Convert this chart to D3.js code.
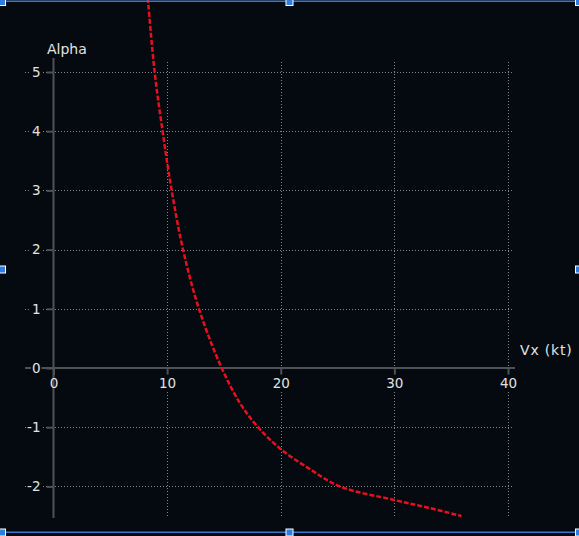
<!DOCTYPE html>
<html>
<head>
<meta charset="utf-8">
<script src="https://cdn.jsdelivr.net/npm/d3@7"></script>
<style>
  body { margin: 0; background: #050a10; overflow: hidden; }
  svg { display: block; }
  .tick text { font-family: "DejaVu Sans", sans-serif; font-size: 13.5px; fill: #e2e2e2; }
</style>
</head>
<body>
<div id="chart"></div>
<script>
// Alpha vs Vx (kt)
const vx    = [8.3, 8.9, 9.6, 10.4, 11.4, 12.8, 14.8, 16.5, 18.0, 20.0, 22.5, 25.2, 30.0, 33.0, 35.9];
const alpha = [6.25, 5.0, 4.0, 3.0, 2.0, 1.0, 0.0, -0.62, -1.0, -1.37, -1.70, -2.0, -2.23, -2.36, -2.5];
const xTicks = [0, 10, 20, 30, 40];
const yTicks = [-2, -1, 0, 1, 2, 3, 4, 5];

const width = 579, height = 536;
const bg = "#050a10";

const points = vx.map((v, i) => ({ x: v, y: alpha[i] }));

const svg = d3.select("#chart").append("svg")
  .attr("width", width)
  .attr("height", height);

svg.append("rect")
  .attr("width", width)
  .attr("height", height)
  .attr("fill", bg);

// scales
const xScale = d3.scaleLinear().domain([0, 40]).range([53.5, 508]);
const yScale = d3.scaleLinear().domain([0, 5]).range([368, 72]);

// dotted grid
const gridLeft = 25, gridRight = 513, gridTop = 62, gridBottom = 518;

svg.append("g")
  .selectAll("line")
  .data(yTicks.filter(d => d !== 0))
  .join("line")
  .attr("x1", gridLeft)
  .attr("x2", gridRight)
  .attr("y1", d => Math.round(yScale(d)) + 0.5)
  .attr("y2", d => Math.round(yScale(d)) + 0.5)
  .attr("stroke", "#80858a")
  .attr("stroke-width", 1)
  .attr("stroke-dasharray", "1,2");

svg.append("g")
  .selectAll("line")
  .data(xTicks.filter(d => d !== 0))
  .join("line")
  .attr("x1", d => Math.round(xScale(d)) + 0.5)
  .attr("x2", d => Math.round(xScale(d)) + 0.5)
  .attr("y1", gridTop)
  .attr("y2", gridBottom)
  .attr("stroke", "#80858a")
  .attr("stroke-width", 1)
  .attr("stroke-dasharray", "1,2");

// main axis lines
svg.append("line")
  .attr("x1", gridLeft).attr("x2", 515)
  .attr("y1", yScale(0)).attr("y2", yScale(0))
  .attr("stroke", "#4e5256").attr("stroke-width", 2);

svg.append("line")
  .attr("x1", xScale(0)).attr("x2", xScale(0))
  .attr("y1", 58).attr("y2", gridBottom)
  .attr("stroke", "#4e5256").attr("stroke-width", 2);

// axes (ticks + labels)
const xAxis = d3.axisBottom(xScale)
  .tickValues(xTicks)
  .tickFormat(d => String(d))
  .tickSize(7)
  .tickPadding(3);

const yAxis = d3.axisLeft(yScale)
  .tickValues(yTicks)
  .tickFormat(d => String(d))
  .tickSize(7)
  .tickPadding(6);

const gx = svg.append("g")
  .attr("transform", "translate(0," + yScale(0) + ")")
  .call(xAxis);

const gy = svg.append("g")
  .attr("transform", "translate(" + xScale(0) + ",0)")
  .call(yAxis);

[gx, gy].forEach(g => {
  g.select(".domain").remove();
  g.selectAll(".tick line").attr("stroke", "#4e5256").attr("stroke-width", 2);
  // label backgrounds hide the grid behind the numbers
  g.selectAll(".tick").filter(d => !(g === gx && d === 0)).each(function () {
    const t = d3.select(this).select("text");
    const b = t.node().getBBox();
    d3.select(this).insert("rect", "text")
      .attr("x", b.x - 1)
      .attr("y", b.y)
      .attr("width", b.width + 2)
      .attr("height", b.height)
      .attr("fill", bg);
  });
});

// axis titles
svg.append("text")
  .attr("x", 47)
  .attr("y", 54)
  .attr("font-family", "DejaVu Sans, sans-serif")
  .attr("font-size", 14)
  .attr("fill", "#e2e2e2")
  .text("Alpha");

svg.append("text")
  .attr("x", 520)
  .attr("y", 355)
  .attr("font-family", "DejaVu Sans, sans-serif")
  .attr("font-size", 14)
  .attr("letter-spacing", 0.8)
  .attr("fill", "#e2e2e2")
  .text("Vx (kt)");

// the curve
const line = d3.line()
  .x(d => xScale(d.x))
  .y(d => yScale(d.y))
  .curve(d3.curveCatmullRom.alpha(0.5));

svg.append("path")
  .datum(points)
  .attr("fill", "none")
  .attr("stroke", "#e8101e")
  .attr("stroke-width", 2.5)
  .attr("stroke-dasharray", "5,2")
  .attr("d", line);

// selection frame with handles
const frameColor = "#3f74cc";
svg.append("rect").attr("x", 0).attr("y", 0.5).attr("width", width).attr("height", 1.5).attr("fill", frameColor);
svg.append("rect").attr("x", 0).attr("y", 531.5).attr("width", width).attr("height", 1.5).attr("fill", frameColor);

const handles = [[2, 2], [289.5, 2], [579, 2], [2, 269.5], [579, 269.5], [2, 532.5], [289.5, 532.5], [579, 532.5]];
svg.append("g")
  .selectAll("rect")
  .data(handles)
  .join("rect")
  .attr("x", d => d[0] - 3.5)
  .attr("y", d => d[1] - 3.5)
  .attr("width", 7)
  .attr("height", 7)
  .attr("fill", "#2f7de0")
  .attr("stroke", "#ffffff")
  .attr("stroke-width", 1);
</script>
</body>
</html>
